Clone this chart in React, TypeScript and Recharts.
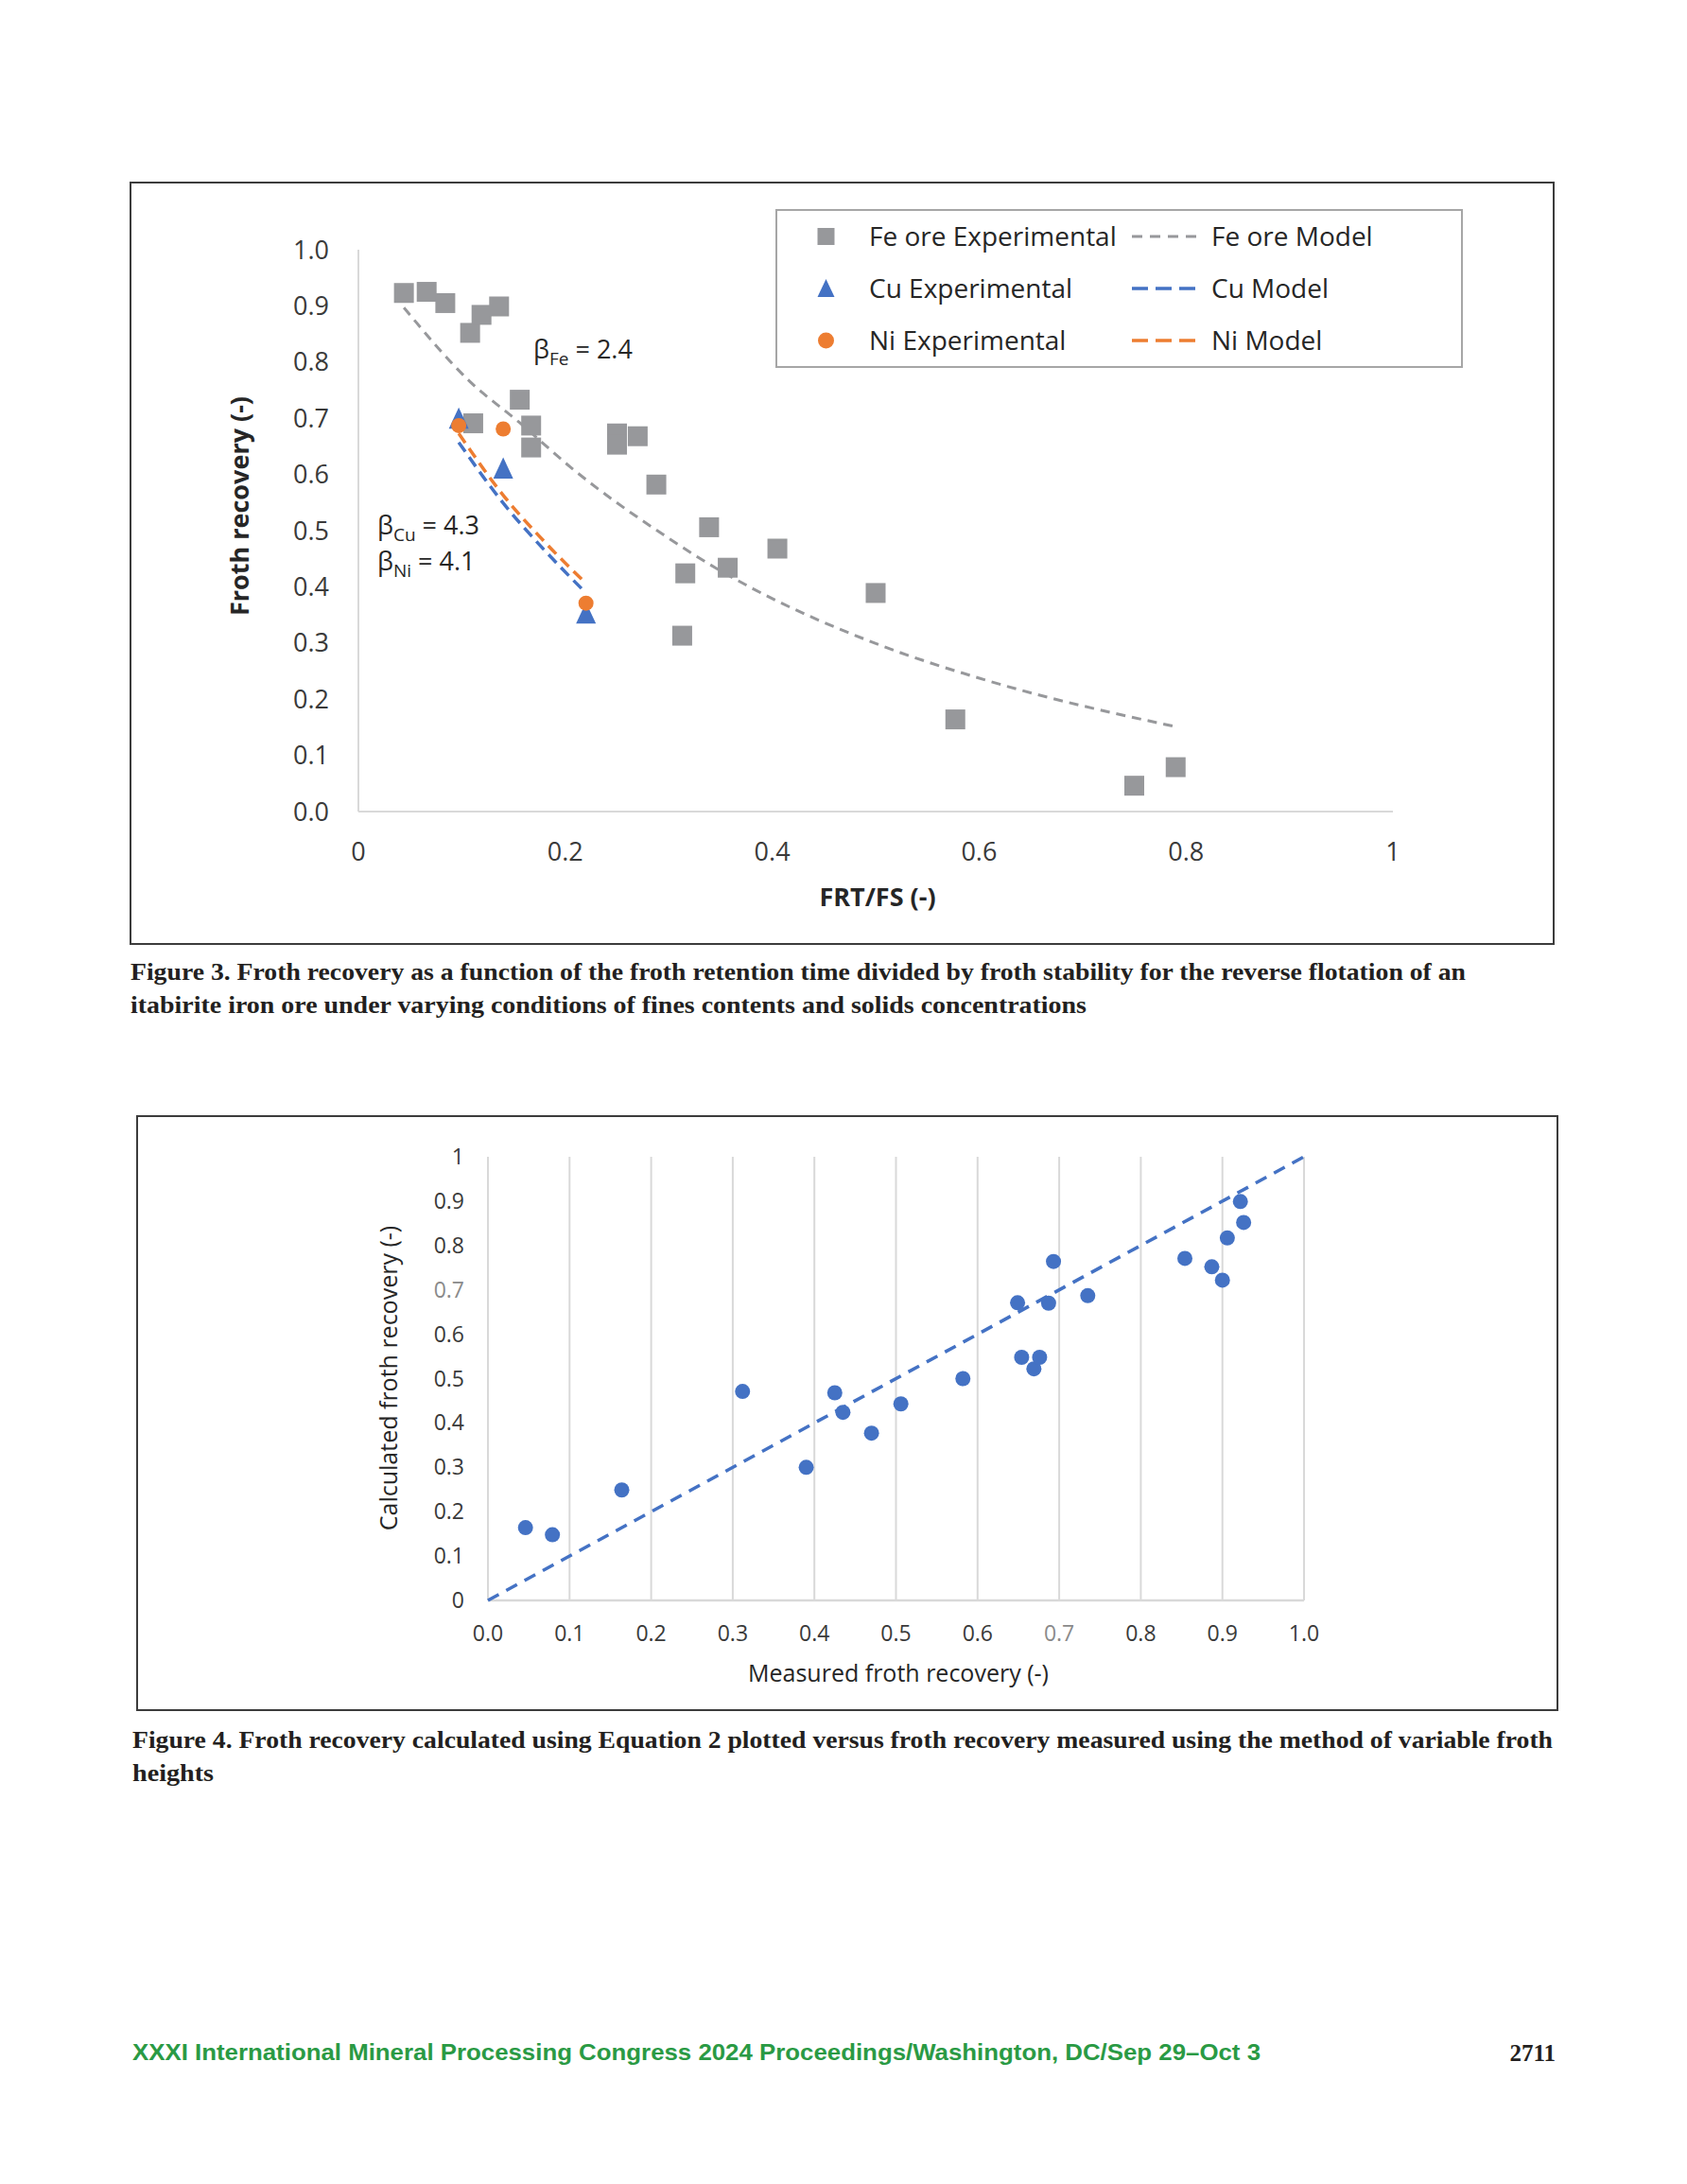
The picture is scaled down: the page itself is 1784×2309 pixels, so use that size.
import React from "react";
import { ScatterChart, Scatter, XAxis, YAxis, CartesianGrid } from "recharts";

const FONT = "'Open Sans', 'DejaVu Sans', sans-serif";
const SERIF = "'Liberation Serif', 'DejaVu Serif', serif";

// ---- Figure 3: froth recovery vs FRT/FS ----
const feExperimental = [
  [0.044, 0.923], [0.066, 0.925], [0.084, 0.905], [0.108, 0.852], [0.119, 0.884],
  [0.136, 0.899], [0.156, 0.733], [0.111, 0.691], [0.167, 0.687], [0.167, 0.648],
  [0.25, 0.673], [0.25, 0.653], [0.27, 0.668], [0.288, 0.582], [0.339, 0.506],
  [0.405, 0.468], [0.316, 0.424], [0.357, 0.434], [0.5, 0.389], [0.313, 0.313],
  [0.577, 0.164], [0.75, 0.046], [0.79, 0.079],
];
const cuExperimental = [[0.097, 0.7], [0.14, 0.611], [0.22, 0.353]];
const niExperimental = [[0.097, 0.687], [0.14, 0.681], [0.22, 0.371]];
const feModel = [
  [0.044, 0.897], [0.108, 0.765], [0.156, 0.692], [0.205, 0.613], [0.297, 0.49],
  [0.345, 0.434], [0.378, 0.4], [0.496, 0.302], [0.61, 0.232], [0.79, 0.151],
];
const cuModel = [[0.097, 0.657], [0.14, 0.549], [0.18, 0.465], [0.22, 0.389]];
const niModel = [[0.097, 0.673], [0.14, 0.563], [0.18, 0.48], [0.22, 0.406]];
const fig3XTicks = [0, 0.2, 0.4, 0.6, 0.8, 1];
const fig3YTicks = [0, 0.1, 0.2, 0.3, 0.4, 0.5, 0.6, 0.7, 0.8, 0.9, 1];

// ---- Figure 4: calculated vs measured ----
const measured = [
  0.046, 0.079, 0.164, 0.312, 0.39, 0.425, 0.435, 0.47, 0.506, 0.582, 0.649, 0.654,
  0.669, 0.676, 0.687, 0.693, 0.735, 0.854, 0.887, 0.9, 0.906, 0.922, 0.926,
];
const calculated = [
  0.164, 0.148, 0.249, 0.471, 0.3, 0.468, 0.424, 0.377, 0.443, 0.5, 0.671, 0.548,
  0.522, 0.548, 0.67, 0.764, 0.687, 0.771, 0.752, 0.722, 0.817, 0.899, 0.852,
];
const parityLine = [[0, 0], [1, 1]];
const fig4Ticks = [0, 0.1, 0.2, 0.3, 0.4, 0.5, 0.6, 0.7, 0.8, 0.9, 1];

const GRAY = "#97989b";
const BLUE = "#4472c4";
const ORANGE = "#ed7d31";
const TICK = "#3a3a3a";

const toPts = (arr: number[][]) => arr.map(([x, y]) => ({ x, y }));
const fig4Pts = measured.map((x, i) => ({ x, y: calculated[i] }));

const NoMarker = () => <g />;
const Square = (p: any) => (
  <rect x={p.cx - 10.5} y={p.cy - 10.5} width={21} height={21} fill={GRAY} />
);
const Triangle = (p: any) => (
  <polygon
    points={`${p.cx},${p.cy - 11.5} ${p.cx - 10.5},${p.cy + 11} ${p.cx + 10.5},${p.cy + 11}`}
    fill={BLUE}
  />
);
const Dot = (p: any) => <circle cx={p.cx} cy={p.cy} r={8} fill={ORANGE} />;
const BlueDot = (p: any) => <circle cx={p.cx} cy={p.cy} r={8} fill={BLUE} />;

const fmt3x = (v: number) => (v === 0 ? "0" : v === 1 ? "1" : v.toFixed(1));
const fmt4y = (v: number) => (v === 0 ? "0" : v === 1 ? "1" : v.toFixed(1));

const Fig4XTick = (p: any) => (
  <text
    x={p.x}
    y={p.y}
    dy="0.71em"
    textAnchor="middle"
    fontSize={23}
    fontFamily={FONT}
    fill={Math.abs(p.payload.value - 0.7) < 1e-6 ? "#8a8a8a" : TICK}
  >
    {p.payload.value.toFixed(1)}
  </text>
);
const Fig4YTick = (p: any) => (
  <text
    x={p.x}
    y={p.y}
    dy="0.35em"
    textAnchor="end"
    fontSize={23}
    fontFamily={FONT}
    fill={Math.abs(p.payload.value - 0.7) < 1e-6 ? "#8a8a8a" : TICK}
  >
    {fmt4y(p.payload.value)}
  </text>
);

function Figure3() {
  return (
    <div style={{ position: "absolute", left: 137, top: 192 }}>
      <ScatterChart width={1508} height={807} margin={{ top: 72, right: 172, left: 162, bottom: 81 }}>
        <XAxis
          type="number"
          dataKey="x"
          domain={[0, 1]}
          ticks={fig3XTicks}
          interval={0}
          tickFormatter={fmt3x}
          axisLine={{ stroke: "#d9d9d9", strokeWidth: 2 }}
          tickLine={false}
          tickSize={0}
          tickMargin={33}
          height={60}
          tick={{ fill: TICK, fontSize: 27, fontFamily: FONT }}
        />
        <YAxis
          type="number"
          dataKey="y"
          domain={[0, 1]}
          ticks={fig3YTicks}
          interval={0}
          tickFormatter={(v: number) => v.toFixed(1)}
          axisLine={{ stroke: "#d9d9d9", strokeWidth: 2 }}
          tickLine={false}
          tickSize={0}
          tickMargin={31}
          width={80}
          tick={{ fill: TICK, fontSize: 27, fontFamily: FONT }}
        />
        <Scatter
          data={toPts(feModel)}
          line={{ stroke: GRAY, strokeWidth: 3, strokeDasharray: "10 7" }}
          lineJointType="monotoneX"
          shape={NoMarker}
          isAnimationActive={false}
        />
        <Scatter
          data={toPts(cuModel)}
          line={{ stroke: BLUE, strokeWidth: 3.5, strokeDasharray: "12 7" }}
          lineJointType="monotoneX"
          shape={NoMarker}
          isAnimationActive={false}
        />
        <Scatter
          data={toPts(niModel)}
          line={{ stroke: ORANGE, strokeWidth: 3.5, strokeDasharray: "12 7" }}
          lineJointType="monotoneX"
          shape={NoMarker}
          isAnimationActive={false}
        />
        <Scatter data={toPts(feExperimental)} shape={Square} isAnimationActive={false} />
        <Scatter data={toPts(cuExperimental)} shape={Triangle} isAnimationActive={false} />
        <Scatter data={toPts(niExperimental)} shape={Dot} isAnimationActive={false} />
      </ScatterChart>
    </div>
  );
}

function Figure4() {
  return (
    <div style={{ position: "absolute", left: 144, top: 1179 }}>
      <ScatterChart width={1506} height={630} margin={{ top: 44, right: 271, left: 292, bottom: 57 }}>
        <CartesianGrid horizontal={false} stroke="#d9d9d9" strokeWidth={2} />
        <XAxis
          type="number"
          dataKey="x"
          domain={[0, 1]}
          ticks={fig4Ticks}
          interval={0}
          axisLine={{ stroke: "#d9d9d9", strokeWidth: 2.5 }}
          tickLine={false}
          tickSize={0}
          tickMargin={27}
          height={60}
          tick={<Fig4XTick />}
        />
        <YAxis
          type="number"
          dataKey="y"
          domain={[0, 1]}
          ticks={fig4Ticks}
          interval={0}
          axisLine={false}
          tickLine={false}
          tickSize={0}
          tickMargin={25}
          width={80}
          tick={<Fig4YTick />}
        />
        <Scatter
          data={toPts(parityLine)}
          line={{ stroke: BLUE, strokeWidth: 3.5, strokeDasharray: "13 9" }}
          shape={NoMarker}
          isAnimationActive={false}
        />
        <Scatter data={fig4Pts} shape={BlueDot} isAnimationActive={false} />
      </ScatterChart>
    </div>
  );
}

function Overlay() {
  const lg = { fontFamily: FONT, fontSize: 28, fill: "#262626" };
  const beta = { fontFamily: FONT, fontSize: 27, fill: "#262626" };
  const cap = { fontFamily: SERIF, fontSize: 26, fontWeight: 700, fill: "#231f20" };
  return (
    <svg
      width={1784}
      height={2309}
      style={{ position: "absolute", left: 0, top: 0, pointerEvents: "none" }}
    >
      {/* figure frames */}
      <rect x={138} y={193} width={1505} height={805} fill="none" stroke="#3c3c3c" strokeWidth={2} />
      <rect x={145} y={1180} width={1502} height={628} fill="none" stroke="#3c3c3c" strokeWidth={2} />

      {/* legend of figure 3 */}
      <rect x={821} y={222} width={725} height={166} fill="#fff" stroke="#a6a6a6" strokeWidth={2} />
      <rect x={864.5} y={241} width={18} height={18} fill={GRAY} />
      <polygon points="873.5,295 864.5,314 882.5,314" fill={BLUE} />
      <circle cx={873.5} cy={360} r={8.5} fill={ORANGE} />
      <text x={919} y={260} {...lg}>Fe ore Experimental</text>
      <text x={919} y={315} {...lg}>Cu Experimental</text>
      <text x={919} y={370} {...lg}>Ni Experimental</text>
      <line x1={1197} y1={250} x2={1266} y2={250} stroke={GRAY} strokeWidth={3} strokeDasharray="11 8" />
      <line x1={1197} y1={305} x2={1266} y2={305} stroke={BLUE} strokeWidth={3.5} strokeDasharray="17 8" />
      <line x1={1197} y1={360} x2={1266} y2={360} stroke={ORANGE} strokeWidth={3.5} strokeDasharray="17 8" />
      <text x={1281} y={260} {...lg}>Fe ore Model</text>
      <text x={1281} y={315} {...lg}>Cu Model</text>
      <text x={1281} y={370} {...lg}>Ni Model</text>

      {/* beta annotations */}
      <text x={564} y={379} {...beta}>
        β<tspan fontSize={19} dy={7}>Fe</tspan>
        <tspan dy={-7}> = 2.4</tspan>
      </text>
      <text x={399} y={565} {...beta}>
        β<tspan fontSize={19} dy={7}>Cu</tspan>
        <tspan dy={-7}> = 4.3</tspan>
      </text>
      <text x={399} y={603} {...beta}>
        β<tspan fontSize={19} dy={7}>Ni</tspan>
        <tspan dy={-7}> = 4.1</tspan>
      </text>

      {/* axis titles */}
      <text
        x={263}
        y={535}
        transform="rotate(-90 263 535)"
        textAnchor="middle"
        fontFamily={FONT}
        fontSize={27}
        fontWeight={700}
        fill="#262626"
      >
        Froth recovery (-)
      </text>
      <text x={928} y={958} textAnchor="middle" fontFamily={FONT} fontSize={27} fontWeight={700} fill="#262626">
        FRT/FS (-)
      </text>
      <text
        x={420}
        y={1457}
        transform="rotate(-90 420 1457)"
        textAnchor="middle"
        fontFamily={FONT}
        fontSize={25}
        fill="#262626"
      >
        Calculated froth recovery (-)
      </text>
      <text x={950} y={1778} textAnchor="middle" fontFamily={FONT} fontSize={25} fill="#262626">
        Measured froth recovery (-)
      </text>

      {/* captions */}
      <text x={138} y={1036} textLength={1412} lengthAdjust="spacingAndGlyphs" {...cap}>
        Figure 3. Froth recovery as a function of the froth retention time divided by froth stability for the reverse flotation of an
      </text>
      <text x={138} y={1071} textLength={1011} lengthAdjust="spacingAndGlyphs" {...cap}>
        itabirite iron ore under varying conditions of fines contents and solids concentrations
      </text>
      <text x={140} y={1848} textLength={1502} lengthAdjust="spacingAndGlyphs" {...cap}>
        Figure 4. Froth recovery calculated using Equation 2 plotted versus froth recovery measured using the method of variable froth
      </text>
      <text x={140} y={1883} textLength={86} lengthAdjust="spacingAndGlyphs" {...cap}>
        heights
      </text>

      {/* footer */}
      <text
        x={140}
        y={2178}
        textLength={1193}
        lengthAdjust="spacingAndGlyphs"
        fontFamily="'Liberation Sans', 'Arial', sans-serif"
        fontSize={24}
        fontWeight={700}
        fill="#2a9a44"
      >
        XXXI International Mineral Processing Congress 2024 Proceedings/Washington, DC/Sep 29–Oct 3
      </text>
      <text x={1645} y={2179} textAnchor="end" fontFamily={SERIF} fontSize={25} fontWeight={700} fill="#231f20">
        2711
      </text>
    </svg>
  );
}

export default function App() {
  return (
    <div style={{ position: "absolute", left: 0, top: 0, width: 1784, height: 2309, background: "#fff" }}>
      <Figure3 />
      <Figure4 />
      <Overlay />
    </div>
  );
}
